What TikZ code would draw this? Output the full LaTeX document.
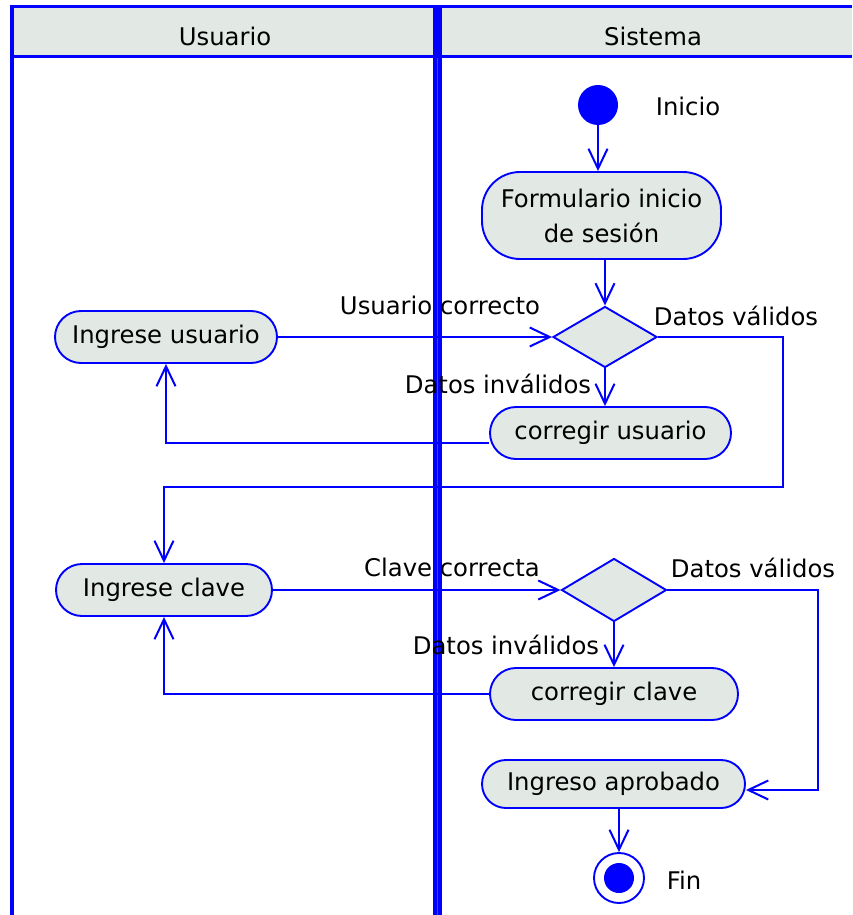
\documentclass[tikz,border=0pt]{standalone}
\usepackage{fontspec}
\setmainfont{DejaVu Sans}
\usetikzlibrary{shapes.geometric,arrows.meta}
\definecolor{lanefill}{RGB}{226,233,229}
\definecolor{umlblue}{RGB}{0,0,255}
\begin{document}
\begin{tikzpicture}[x=1pt,y=-1pt,
  every node/.style={font=\fontsize{24.3}{35}\selectfont},
  action/.style={draw=umlblue, line width=1.9pt, fill=lanefill, rounded corners=26pt, inner sep=0pt, align=center},
  decision/.style={draw=umlblue, line width=1.9pt, fill=lanefill, diamond, inner sep=0pt},
  flow/.style={draw=umlblue, line width=2pt, -{Straight Barb[length=20pt,width=19pt]}},
  lbl/.style={inner sep=0pt, text=black},
  lanerule/.style={draw=umlblue}]
\useasboundingbox (0,0) rectangle (852,915);

% swimlane frame and header
\fill[lanefill] (10,7) rectangle (852,57);
\draw[lanerule, line width=3pt] (10,6.5) -- (852,6.5);
\draw[lanerule, line width=3.5pt] (10,56.5) -- (852,56.5);
\draw[lanerule, line width=4.5pt] (12,5) -- (12,915);
\draw[lanerule, line width=9pt] (437.8,5) -- (437.8,915);
\draw[blue!75!white, line width=0.8pt] (437.8,58) -- (437.8,915);
\node[lbl] (hUser) at (225,36) {Usuario};
\node[lbl] (hSys) at (653,36) {Sistema};

% start and end
\node[circle, fill=umlblue, minimum size=40pt, inner sep=0pt] (start) at (598,105) {};
\node[lbl] (startLbl) at (688,106) {Inicio};
\node[circle, draw=umlblue, line width=1.9pt, fill=white, minimum size=50pt, inner sep=0pt] (fin) at (619,878) {};
\fill[umlblue] (fin.center) circle (15pt);
\node[lbl] (finLbl) at (684,880) {Fin};

% actions
\node[action, minimum width=239pt, minimum height=87pt, rounded corners=38pt] (form) at (601.5,215.5)
  {Formulario inicio\\de sesión};
\node[action, minimum width=222pt, minimum height=52pt] (inUser) at (166,337) {Ingrese usuario};
\node[action, minimum width=241pt, minimum height=52pt] (fixUser) at (610.5,433) {corregir usuario};
\node[action, minimum width=216pt, minimum height=52pt] (inKey) at (164,590) {Ingrese clave};
\node[action, minimum width=248pt, minimum height=52pt] (fixKey) at (614,694) {corregir clave};
\node[action, minimum width=263pt, minimum height=48pt, rounded corners=24pt] (ok) at (613.5,784) {Ingreso aprobado};

% decisions
\node[decision, minimum width=104pt, minimum height=61pt] (dec1) at (605,337) {};
\node[decision, minimum width=105pt, minimum height=63pt] (dec2) at (614,590) {};

% guard labels
\node[lbl] (gUser) at (440,305) {Usuario correcto};
\node[lbl] (gOk1) at (736,316) {Datos válidos};
\node[lbl] (gBad1) at (498,384) {Datos inválidos};
\node[lbl] (gKey) at (452,567) {Clave correcta};
\node[lbl] (gOk2) at (753,568) {Datos válidos};
\node[lbl] (gBad2) at (506,645) {Datos inválidos};

% bend points
\coordinate (c1) at (783,487);
\coordinate (c2) at (818,790);

% flows
\draw[flow] (start) -- (start |- form.north);
\draw[flow] (form.south -| dec1.north) -- (dec1.north);
\draw[flow] (inUser.east) -- (dec1.west);
\draw[flow] (dec1.south) -- (dec1.south |- fixUser.north);
\draw[flow] ([yshift=-10pt]fixUser.west) -| (inUser.south);
\draw[flow] (dec1.east) -| (c1) -| (inKey.north);
\draw[flow] (inKey.east) -- (dec2.west);
\draw[flow] (dec2.south) -- (dec2.south |- fixKey.north);
\draw[flow] (fixKey.west) -| (inKey.south);
\draw[flow] (dec2.east) -| (c2) -- (ok.east |- c2);
\draw[flow] (ok.south -| fin.north) -- (fin.north);
\end{tikzpicture}
\end{document}
